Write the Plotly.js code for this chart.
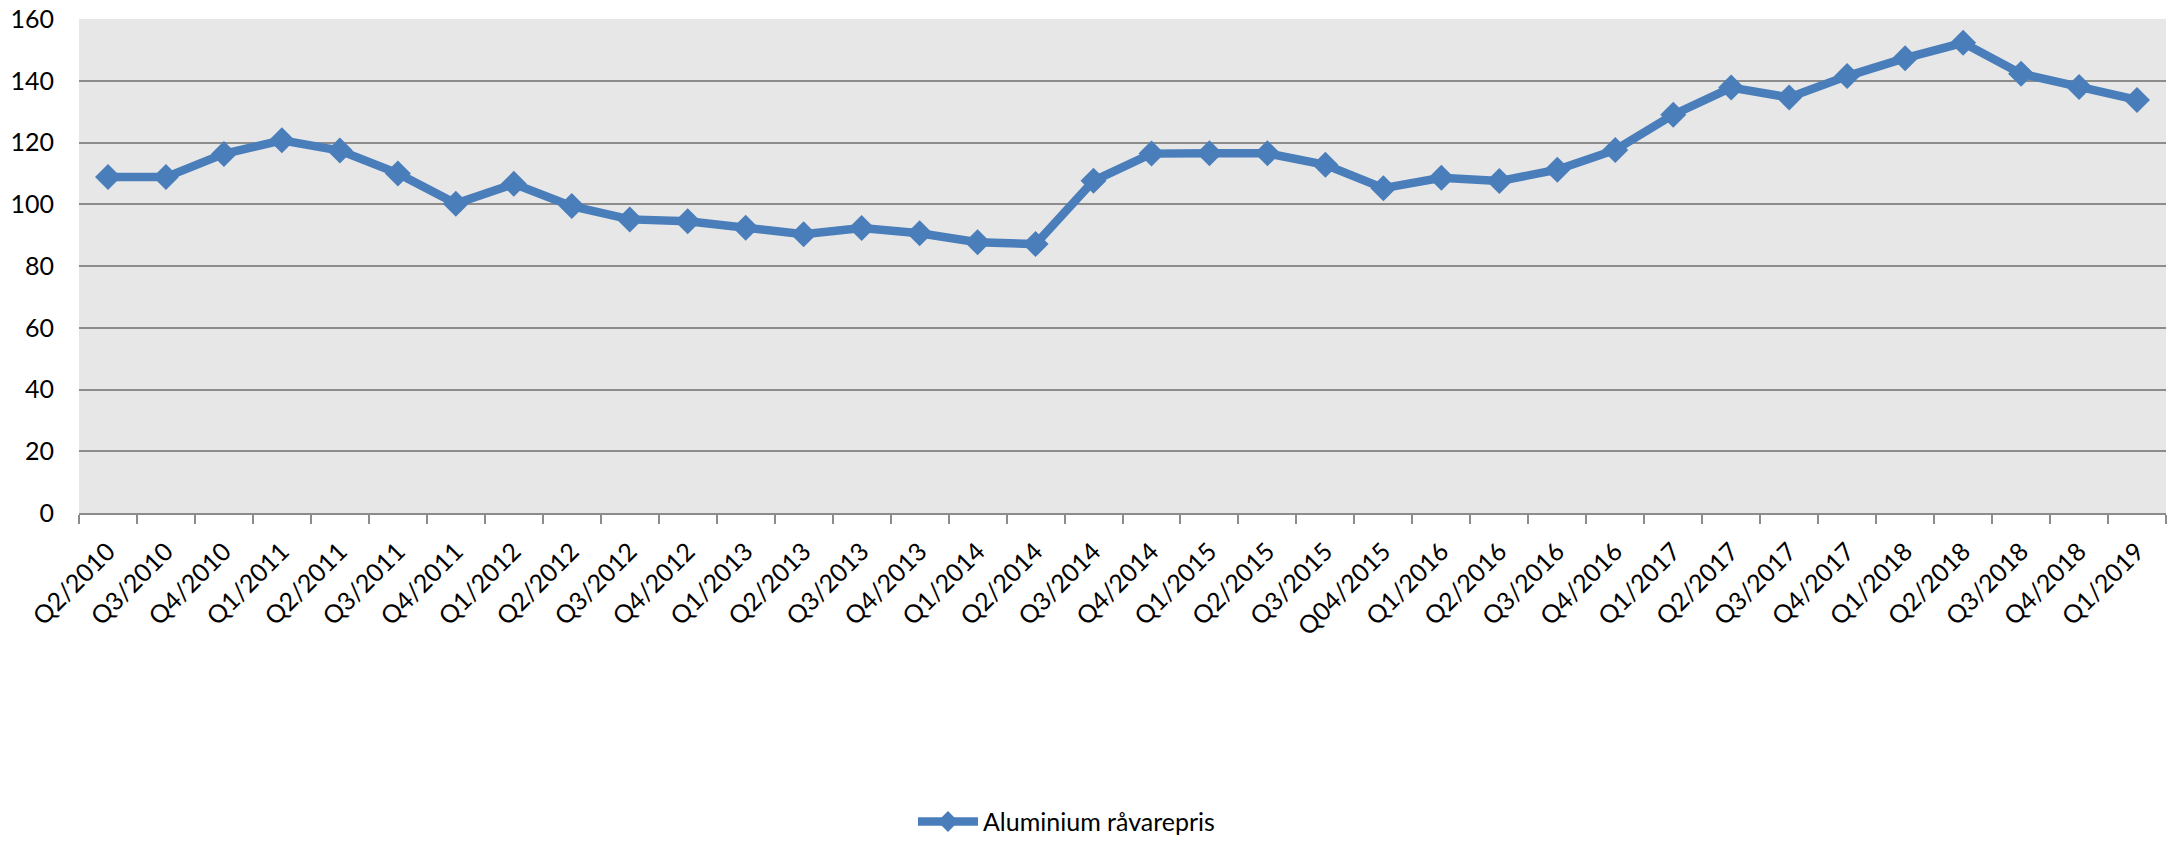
<!DOCTYPE html>
<html>
<head>
<meta charset="utf-8">
<script src="https://cdn.plot.ly/plotly-3.0.1.min.js"></script>
<style>
  html, body { margin: 0; padding: 0; background: #ffffff; }
  #chart { width: 2173px; height: 851px; }
</style>
</head>
<body>
<div id="chart"></div>
<script>
const categories = [
  "Q2/2010","Q3/2010","Q4/2010","Q1/2011","Q2/2011","Q3/2011","Q4/2011",
  "Q1/2012","Q2/2012","Q3/2012","Q4/2012","Q1/2013","Q2/2013","Q3/2013",
  "Q4/2013","Q1/2014","Q2/2014","Q3/2014","Q4/2014","Q1/2015","Q2/2015",
  "Q3/2015","Q04/2015","Q1/2016","Q2/2016","Q3/2016","Q4/2016","Q1/2017",
  "Q2/2017","Q3/2017","Q4/2017","Q1/2018","Q2/2018","Q3/2018","Q4/2018","Q1/2019"
];
const aluminiumValues = [
  108.8, 108.8, 116.3, 120.7, 117.4, 110.0, 100.2,
  106.6, 99.4, 95.1, 94.5, 92.4, 90.3, 92.3,
  90.6, 87.7, 87.1, 107.6, 116.4, 116.5, 116.5,
  112.8, 105.2, 108.6, 107.5, 111.2, 117.6, 129.0,
  137.8, 134.6, 141.5, 147.3, 152.3, 142.3, 138.0, 133.8
];
const seriesName = "Aluminium råvarepris";
const yTicks = [0, 20, 40, 60, 80, 100, 120, 140, 160];

const FONT = "Lato, 'Open Sans', sans-serif";

const trace = {
  type: "scatter",
  mode: "lines+markers",
  x: categories,
  y: aluminiumValues,
  name: seriesName,
  line: { color: "#4a7ebb", width: 8.5 },
  marker: { symbol: "diamond", size: 20, color: "#4a7ebb" },
  showlegend: true
};

const layout = {
  width: 2173,
  height: 851,
  margin: { l: 79, r: 7, t: 19, b: 328 },
  paper_bgcolor: "#ffffff",
  plot_bgcolor: "#e7e7e7",
  font: { family: FONT, size: 24, color: "#000000" },
  showlegend: true,
  legend: {
    orientation: "h",
    x: 0.3996, xanchor: "left",
    y: -0.625, yanchor: "middle",
    font: { family: FONT, size: 25, color: "#000000" },
    itemwidth: 60,
    bgcolor: "rgba(0,0,0,0)"
  },
  xaxis: {
    type: "category",
    range: [-0.5, categories.length - 0.5],
    tickson: "boundaries",
    ticks: "outside",
    ticklen: 9,
    tickwidth: 2,
    tickcolor: "#8c8c8c",
    showline: true,
    linecolor: "#8c8c8c",
    linewidth: 2,
    showgrid: false,
    zeroline: false,
    tickangle: -45,
    ticklabelstandoff: 12,
    tickfont: { family: FONT, size: 25, color: "#000000" },
    automargin: false
  },
  yaxis: {
    range: [0, 160],
    tickvals: yTicks,
    ticktext: yTicks.map(String),
    showgrid: true,
    gridcolor: "#8c8c8c",
    gridwidth: 2,
    showline: false,
    zeroline: false,
    ticks: "",
    ticklabelstandoff: 24,
    tickfont: { family: FONT, size: 25, color: "#000000" },
    automargin: false
  }
};

Plotly.newPlot("chart", [trace], layout, { displayModeBar: false, staticPlot: true });
</script>
</body>
</html>
